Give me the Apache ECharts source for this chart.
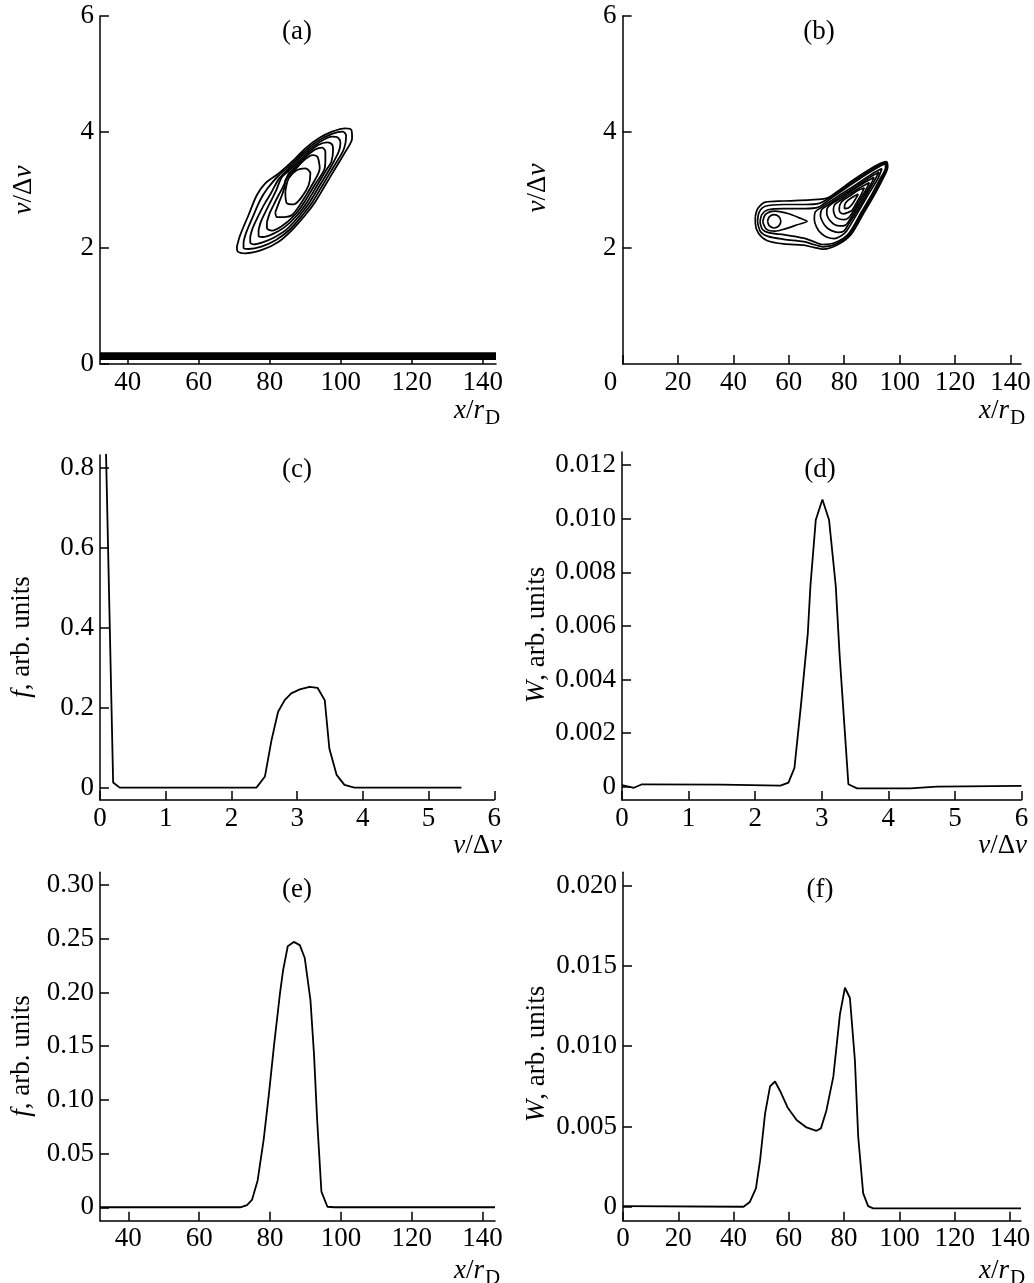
<!DOCTYPE html>
<html><head><meta charset="utf-8">
<script src="https://cdn.jsdelivr.net/npm/echarts@6/dist/echarts.min.js"></script>
<style>html,body{margin:0;padding:0;background:#fff}#c{width:1034px;height:1283px}</style>
</head><body><div id="c"></div>
<script>
// ---------- Panel (a): contour lines of f(x, v) ----------
const aBandX = [32.2, 143.7];
const aBandV = [0.135, 0.135];
const aC1 = [[70.74,2.023],[71.68,2.224],[74.03,2.569],[76.38,2.914],[78.73,3.115],[82.50,3.287],[86.26,3.488],[90.02,3.718],[93.78,3.891],[97.54,4.006],[101.30,4.063],[102.99,4.034],[103.18,3.891],[101.30,3.661],[98.48,3.374],[95.66,3.086],[92.84,2.799],[90.02,2.569],[86.26,2.310],[82.50,2.109],[77.79,1.966],[73.09,1.908],[71.02,1.937],[70.74,2.023]];
const aC2 = [[72.62,2.109],[73.28,2.253],[75.25,2.540],[77.32,2.828],[79.39,3.029],[82.50,3.250],[86.26,3.451],[90.02,3.681],[93.78,3.853],[97.54,3.968],[100.55,4.006],[101.49,3.937],[101.30,3.805],[100.55,3.661],[97.73,3.374],[94.91,3.086],[92.09,2.799],[89.27,2.569],[85.50,2.310],[81.74,2.138],[77.61,2.023],[74.03,1.983],[72.62,2.006],[72.62,2.109]];
const aC3 = [[74.50,2.195],[75.16,2.339],[76.67,2.540],[78.45,2.753],[80.33,2.943],[82.68,3.201],[86.26,3.414],[90.02,3.644],[93.78,3.816],[97.54,3.919],[99.23,3.902],[99.89,3.805],[99.42,3.661],[96.98,3.374],[94.15,3.086],[91.33,2.799],[88.51,2.569],[84.75,2.322],[81.08,2.178],[77.98,2.098],[75.44,2.063],[74.50,2.098],[74.50,2.195]];
const aC4 = [[76.85,2.310],[77.51,2.454],[78.73,2.615],[80.33,2.810],[81.74,2.983],[83.44,3.224],[86.26,3.376],[90.02,3.606],[93.78,3.779],[96.13,3.822],[97.54,3.787],[97.82,3.690],[97.35,3.488],[96.22,3.374],[93.40,3.086],[90.58,2.799],[87.76,2.569],[84.00,2.351],[80.61,2.236],[77.98,2.190],[76.85,2.213],[76.85,2.310]];
const aC5 = [[79.20,2.443],[79.86,2.580],[81.08,2.741],[82.50,2.914],[83.91,3.075],[85.32,3.287],[86.26,3.339],[90.02,3.569],[92.84,3.701],[94.72,3.730],[95.66,3.661],[95.66,3.546],[95.47,3.374],[92.65,3.086],[89.83,2.799],[87.01,2.569],[83.44,2.379],[80.61,2.299],[79.20,2.339],[79.20,2.443]];
const aC6 = [[81.55,2.615],[82.50,2.770],[83.44,2.914],[84.19,3.057],[84.38,3.161],[85.79,3.287],[86.26,3.302],[90.02,3.532],[92.09,3.603],[93.40,3.575],[93.87,3.477],[94.06,3.374],[91.90,3.086],[89.08,2.799],[86.26,2.569],[83.91,2.534],[82.03,2.534],[81.55,2.615]];
const aC7 = [[84.38,2.971],[85.32,3.201],[87.67,3.345],[90.02,3.374],[91.43,3.287],[90.96,3.086],[89.08,2.885],[86.73,2.753],[84.85,2.770],[84.38,2.971]];

// ---------- Panel (b): contour lines of W(x, v) ----------
const bC1 = [[47.9,2.54],[48.8,2.68],[51.5,2.79],[58.2,2.81],[67.8,2.83],[73.8,2.86],[77.4,2.97],[82.2,3.14],[88.2,3.33],[93.1,3.46],[95.2,3.49],[95.7,3.40],[93.7,3.17],[90.6,2.89],[87.0,2.60],[82.4,2.23],[77.4,2.05],[72.6,1.98],[69.0,2.01],[65.4,2.05],[58.2,2.07],[52.1,2.13],[49.1,2.25],[47.9,2.43],[47.9,2.54]];
const bC2 = [[48.7,2.45],[49.3,2.62],[51.5,2.72],[58.0,2.75],[66.0,2.75],[71.0,2.77],[74.2,2.85],[77.6,2.955],[82.4,3.12],[88.4,3.31],[93.2,3.44],[95.0,3.47],[95.3,3.40],[93.3,3.18],[90.2,2.90],[86.6,2.61],[82.0,2.245],[77.0,2.07],[72.4,2.02],[69.0,2.06],[65.4,2.11],[58.2,2.15],[52.5,2.20],[49.8,2.28],[48.7,2.45]];
const bC3 = [[49.6,2.45],[50.3,2.58],[52.5,2.66],[58.0,2.68],[66.0,2.68],[70.5,2.70],[74.5,2.83],[77.8,2.94],[82.6,3.10],[88.6,3.29],[93.2,3.42],[94.8,3.45],[94.9,3.39],[92.9,3.19],[89.8,2.91],[86.2,2.62],[81.6,2.25],[76.6,2.09],[72.2,2.06],[69.0,2.11],[65.4,2.17],[58.2,2.23],[53.0,2.26],[50.5,2.32],[49.6,2.45]];
const bTear = [[50.6,2.45],[51.6,2.58],[55.0,2.635],[60.0,2.59],[64.0,2.515],[66.6,2.46],[63.0,2.40],[59.0,2.335],[55.0,2.29],[52.0,2.32],[50.6,2.45]];
const bCore = [[52.3,2.46],[53.0,2.54],[54.7,2.575],[56.4,2.54],[57.1,2.46],[56.4,2.38],[54.7,2.345],[53.0,2.38],[52.3,2.46]];
const bR1 = [[93.6,3.37],[90.4,3.29],[84.2,3.09],[78.0,2.90],[71.8,2.70],[69.5,2.62],[69.2,2.49],[70.0,2.36],[71.5,2.26],[73.6,2.19],[76.4,2.16],[78.9,2.21],[80.8,2.29],[84.6,2.59],[88.4,2.90],[92.2,3.20],[93.6,3.37]];
const bR2 = [[92.6,3.31],[89.3,3.22],[84.6,3.07],[78.4,2.88],[73.8,2.73],[71.8,2.66],[71.4,2.55],[72.2,2.45],[73.5,2.36],[75.4,2.30],[77.7,2.27],[79.8,2.29],[81.3,2.39],[84.2,2.61],[88.0,2.92],[90.8,3.15],[92.6,3.31]];
const bR3 = [[90.8,3.22],[88.1,3.15],[83.4,3.01],[78.8,2.86],[75.1,2.75],[73.8,2.68],[73.7,2.59],[74.3,2.51],[75.3,2.45],[76.6,2.40],[78.4,2.38],[80.3,2.39],[81.5,2.45],[83.8,2.63],[86.7,2.86],[89.5,3.09],[90.8,3.22]];
const bR4 = [[89.1,3.13],[86.4,3.06],[82.3,2.94],[78.3,2.81],[76.6,2.75],[76.1,2.67],[76.3,2.60],[77.0,2.53],[78.3,2.50],[80.0,2.49],[81.5,2.52],[82.8,2.60],[85.3,2.80],[87.8,3.00],[89.1,3.13]];
const bR5 = [[87.3,3.04],[84.9,2.99],[81.8,2.89],[79.3,2.81],[78.4,2.74],[78.2,2.66],[78.6,2.61],[79.7,2.59],[81.2,2.61],[82.8,2.65],[84.3,2.77],[86.2,2.93],[87.3,3.04]];
const bR6 = [[85.1,2.93],[83.1,2.88],[81.3,2.82],[80.2,2.75],[80.1,2.68],[81.5,2.69],[82.8,2.75],[84.0,2.84],[85.1,2.93]];

// ---------- Panel (c): f(v) ----------
const cV = [0.09, 0.2, 0.3, 2.38, 2.51, 2.61, 2.71, 2.81, 2.91, 3.04, 3.19, 3.31, 3.42, 3.49, 3.6, 3.72, 3.87, 5.5];
const cF = [0.85, 0.013, 0, 0, 0.028, 0.119, 0.19, 0.219, 0.236, 0.246, 0.2525, 0.25, 0.219, 0.098, 0.032, 0.007, 0, 0];

// ---------- Panel (d): W(v) ----------
const dV = [0, 0.18, 0.3, 1.5, 2.38, 2.5, 2.59, 2.69, 2.79, 2.83, 2.91, 3.01, 3.11, 3.21, 3.27, 3.40, 3.53, 4.33, 4.73, 6.0];
const dW = [0.00006, -0.00004, 0.00009, 0.00008, 0.00004, 0.00015, 0.0007, 0.0031, 0.0057, 0.0075, 0.00995, 0.01072, 0.00995, 0.0075, 0.00485, 0.00009, -0.00006, -0.00006, 0.0, 0.00003];

// ---------- Panel (e): f(x) ----------
const eX = [32, 71.6, 73.5, 74.9, 76.5, 78.2, 79.7, 81.1, 82.8, 83.7, 85.0, 86.7, 88.4, 89.8, 91.4, 92.4, 93.3, 94.5, 96.2, 98.1, 143.5];
const eF = [0, 0, 0.002, 0.0068, 0.025, 0.063, 0.106, 0.15, 0.199, 0.221, 0.243, 0.247, 0.244, 0.232, 0.193, 0.143, 0.081, 0.0145, 0.0005, 0, 0];

// ---------- Panel (f): W(x) ----------
const fX = [0, 43.6, 45.9, 48.1, 49.6, 51.4, 53.2, 55.0, 57.0, 59.5, 62.8, 66.4, 70.0, 71.6, 73.6, 76.1, 78.5, 80.3, 82.1, 83.9, 85.1, 86.9, 88.7, 90.5, 144];
const fW = [0.00004, 0, 0.0003, 0.00114, 0.0029, 0.0058, 0.0075, 0.0078, 0.00716, 0.0062, 0.0054, 0.00494, 0.00473, 0.00488, 0.0060, 0.0081, 0.012, 0.01364, 0.0130, 0.00913, 0.00436, 0.00083, 0.00004, -0.0001, -0.0001];

// ---------- tick values & labels ----------
const xTicksA = [40, 60, 80, 100, 120, 140];
const xLabelsA = ['40', '60', '80', '100', '120', '140'];
const yTicksA = [0, 2, 4, 6];
const yLabelsA = ['0', '2', '4', '6'];
const xTicksB = [0, 20, 40, 60, 80, 100, 120, 140];
const xLabelsB = ['{z|0}', '20', '40', '60', '80', '100', '120', '140'];
const yTicksB = [2, 4, 6];
const yLabelsB = ['2', '4', '6'];
const xTicksV = [0, 1, 2, 3, 4, 5, 6];
const xLabelsV = ['0', '1', '2', '3', '4', '5', '6'];
const yTicksC = [0, 0.2, 0.4, 0.6, 0.8];
const yLabelsC = ['0', '0.2', '0.4', '0.6', '0.8'];
const yTicksD = [0, 0.002, 0.004, 0.006, 0.008, 0.010, 0.012];
const yLabelsD = ['0', '0.002', '0.004', '0.006', '0.008', '0.010', '0.012'];
const xTicksE = [40, 60, 80, 100, 120, 140];
const xLabelsE = ['40', '60', '80', '100', '120', '140'];
const yTicksE = [0, 0.05, 0.10, 0.15, 0.20, 0.25, 0.30];
const yLabelsE = ['0', '0.05', '0.10', '0.15', '0.20', '0.25', '0.30'];
const xTicksF = [0, 20, 40, 60, 80, 100, 120, 140];
const xLabelsF = ['0', '20', '40', '60', '80', '100', '120', '140'];
const yTicksF = [0, 0.005, 0.010, 0.015, 0.020];
const yLabelsF = ['0', '0.005', '0.010', '0.015', '0.020'];

const FONT = 'Liberation Serif';
const pairs = (xs, ys) => xs.map((x, i) => [x, ys[i]]);

function axis(gi, min, max, ticks, labels, isX) {
  return {
    type: 'value', gridIndex: gi, min: min, max: max,
    axisLine: { show: true, onZero: false, lineStyle: { color: '#000', width: 1.5 } },
    axisTick: { show: true, inside: true, length: 9, customValues: ticks, lineStyle: { color: '#000', width: 1.5 } },
    axisLabel: {
      show: true, customValues: ticks,
      formatter: v => { const k = ticks.indexOf(v); return k >= 0 ? labels[k] : ''; },
      color: '#000', fontFamily: FONT, fontSize: 27, margin: isX ? 5 : 6,
      rich: { z: { fontFamily: FONT, fontSize: 27, color: '#000', padding: [0, 24, 0, 0] } }
    },
    splitLine: { show: false }
  };
}

const grid = [
  { left: 100, top: 16, width: 396, height: 348 },
  { left: 622.6, top: 16, width: 398.4, height: 348 },
  { left: 100, top: 455, width: 394.3, height: 345 },
  { left: 622, top: 452, width: 399.5, height: 348 },
  { left: 100, top: 872.3, width: 395, height: 348.4 },
  { left: 623, top: 872.3, width: 398, height: 348.4 }
].map(g => Object.assign({ outerBoundsMode: 'none', containLabel: false }, g));

const xAxis = [
  axis(0, 32.2, 143.7, xTicksA, xLabelsA, true),
  axis(1, 0, 143.8, xTicksB, xLabelsB, true),
  axis(2, 0, 6, xTicksV, xLabelsV, true),
  axis(3, 0, 6, xTicksV, xLabelsV, true),
  axis(4, 32.0, 143.5, xTicksE, xLabelsE, true),
  axis(5, 0, 144.0, xTicksF, xLabelsF, true)
];
const yAxis = [
  axis(0, 0, 6, yTicksA, yLabelsA, false),
  axis(1, 0, 6, yTicksB, yLabelsB, false),
  axis(2, -0.031, 0.833, yTicksC, yLabelsC, false),
  axis(3, -0.000496, 0.01249, yTicksD, yLabelsD, false),
  axis(4, -0.0125, 0.3118, yTicksE, yLabelsE, false),
  axis(5, -0.00087, 0.02083, yTicksF, yLabelsF, false)
];

function line(gi, data, width, smooth) {
  return { type: 'line', xAxisIndex: gi, yAxisIndex: gi, data: data, symbol: 'none', showSymbol: false,
    smooth: smooth || false, clip: true, silent: true, animation: false,
    lineStyle: { color: '#000', width: width } };
}

const series = [
  line(0, pairs(aBandX, aBandV), 7.7),
  ...[aC1, aC2, aC3, aC4, aC5, aC6, aC7].map(c => line(0, c, 1.8, 0.3)),
  ...[bC1, bC2, bC3, bTear, bCore, bR1, bR2, bR3, bR4, bR5, bR6].map(c => line(1, c, 1.7, 0.3)),
  line(2, pairs(cV, cF), 1.8),
  line(3, pairs(dV, dW), 1.8),
  line(4, pairs(eX, eF), 1.8),
  line(5, pairs(fX, fW), 1.8)
];

// ---------- text ----------
const it = { fontFamily: FONT, fontSize: 27, fontStyle: 'italic', fill: '#000' };
const nm = { fontFamily: FONT, fontSize: 27, fontStyle: 'normal', fill: '#000' };
const rich = { i: it, n: nm };
function txt(x, y, text, align, rot, size) {
  return { type: 'text', x: x, y: y, rotation: rot || 0, silent: true,
    style: { text: text, fontFamily: FONT, fontSize: size || 27, fill: '#000', align: align || 'center', verticalAlign: 'middle', rich: rich } };
}
const graphic = [
  txt(297, 32, '(a)'), txt(819, 32, '(b)'),
  txt(297, 470, '(c)'), txt(820, 470, '(d)'),
  txt(297, 890, '(e)'), txt(820, 890, '(f)'),
  txt(24, 190, '{i|v}{n|/Δ}{i|v}', 'center', Math.PI / 2),
  txt(538, 188, '{i|v}{n|/Δ}{i|v}', 'center', Math.PI / 2),
  txt(22, 637, '{i|f}{n|, arb. units}', 'center', Math.PI / 2),
  txt(537, 635, '{i|W}{n|, arb. units}', 'center', Math.PI / 2),
  txt(22, 1056, '{i|f}{n|, arb. units}', 'center', Math.PI / 2),
  txt(537, 1054, '{i|W}{n|, arb. units}', 'center', Math.PI / 2),
  // x-axis names
  txt(484, 411, '{i|x}{n|/}{i|r}', 'right'), txt(485, 418, 'D', 'left', 0, 21),
  txt(1009, 411, '{i|x}{n|/}{i|r}', 'right'), txt(1010, 418, 'D', 'left', 0, 21),
  txt(502, 846, '{i|v}{n|/Δ}{i|v}', 'right'),
  txt(1027, 846, '{i|v}{n|/Δ}{i|v}', 'right'),
  txt(484, 1271, '{i|x}{n|/}{i|r}', 'right'), txt(485, 1278, 'D', 'left', 0, 21),
  txt(1009, 1271, '{i|x}{n|/}{i|r}', 'right'), txt(1010, 1278, 'D', 'left', 0, 21)
];

const chart = echarts.init(document.getElementById('c'), null, { renderer: 'canvas', width: 1034, height: 1283 });
chart.setOption({ animation: false, backgroundColor: '#fff', grid: grid, xAxis: xAxis, yAxis: yAxis, series: series, graphic: graphic });
</script></body></html>
